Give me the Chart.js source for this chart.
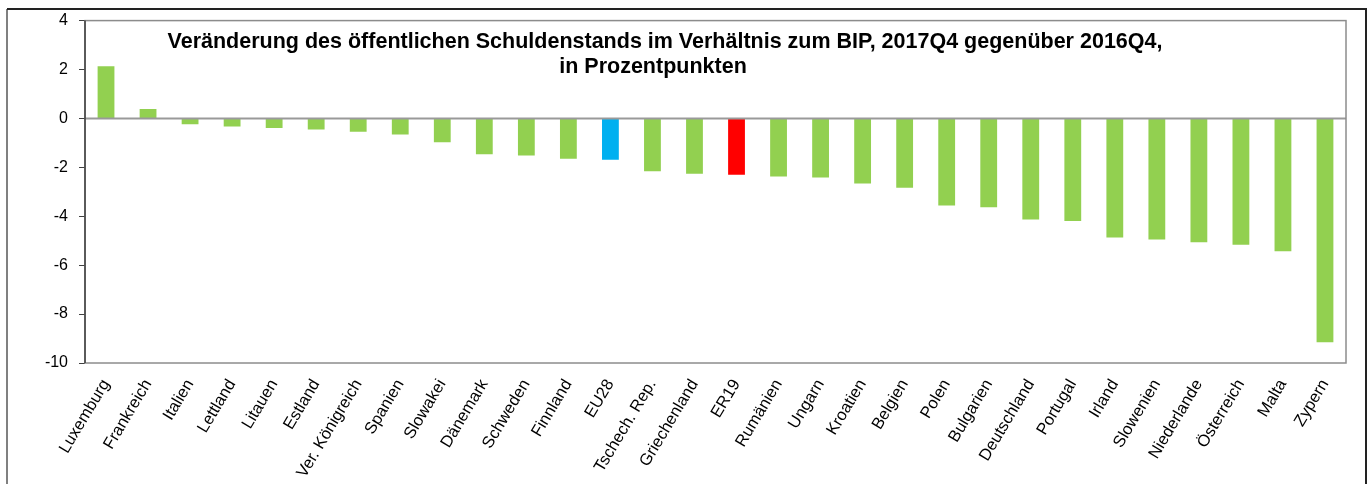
<!DOCTYPE html>
<html>
<head>
<meta charset="utf-8">
<script src="https://cdn.jsdelivr.net/npm/chart.js@4/dist/chart.umd.min.js"></script>
<style>
  html, body { margin: 0; padding: 0; background: #fff; }
  #wrap { width: 1370px; height: 484px; position: relative; }
</style>
</head>
<body>
<div id="wrap"><canvas id="chart" width="1370" height="484"></canvas></div>
<script>
// Debt ratio change 2017Q4 vs 2016Q4, percentage points
const countries = ["Luxemburg", "Frankreich", "Italien", "Lettland", "Litauen", "Estland",
  "Ver. Königreich", "Spanien", "Slowakei", "Dänemark", "Schweden", "Finnland", "EU28",
  "Tschech. Rep.", "Griechenland", "ER19", "Rumänien", "Ungarn", "Kroatien", "Belgien",
  "Polen", "Bulgarien", "Deutschland", "Portugal", "Irland", "Slowenien", "Niederlande",
  "Österreich", "Malta", "Zypern"]
const changes = [2.13, 0.39, -0.24, -0.33, -0.39, -0.45, -0.54, -0.66, -0.97, -1.46, -1.52,
  -1.65, -1.69, -2.16, -2.26, -2.30, -2.37, -2.42, -2.66, -2.83, -3.56, -3.63, -4.13,
  -4.19, -4.87, -4.95, -5.06, -5.17, -5.43, -9.15]
const yTicks = [4, 2, 0, -2, -4, -6, -8, -10]
const titleLines = [
  "Veränderung des öffentlichen Schuldenstands im Verhältnis zum BIP, 2017Q4 gegenüber 2016Q4,",
  "in Prozentpunkten"
]

const GREEN = "#92d050"
const barColors = countries.map(c => c === "EU28" ? "#00b0f0" : c === "ER19" ? "#ff0000" : GREEN)
const FONT = "'Liberation Sans', Arial, sans-serif"

// frame, zero line, plot border and title
const decor = {
  id: "decor",
  beforeDraw(chart) {
    const ctx = chart.ctx
    ctx.save()
    ctx.fillStyle = "#fff"
    ctx.fillRect(0, 0, chart.width, chart.height)
    ctx.restore()
  },
  afterDatasetsDraw(chart) {
    const ctx = chart.ctx
    const a = chart.chartArea
    const y0 = chart.scales.y.getPixelForValue(0)
    ctx.save()
    ctx.strokeStyle = "#999"
    ctx.lineWidth = 2
    ctx.beginPath()
    ctx.moveTo(a.left, y0)
    ctx.lineTo(a.right, y0)
    ctx.stroke()
    ctx.restore()
  },
  afterDraw(chart) {
    const ctx = chart.ctx
    const a = chart.chartArea
    ctx.save()
    // plot border
    ctx.strokeStyle = "#8c8c8c"
    ctx.lineWidth = 1.5
    ctx.strokeRect(a.left, a.top, a.right - a.left, a.bottom - a.top)
    // left axis
    ctx.strokeStyle = "#404040"
    ctx.lineWidth = 1.5
    ctx.beginPath()
    ctx.moveTo(a.left, a.top)
    ctx.lineTo(a.left, a.bottom)
    ctx.stroke()
    // outer frame
    ctx.strokeStyle = "#808080"
    ctx.lineWidth = 2
    ctx.beginPath()
    ctx.moveTo(7, chart.height + 5)
    ctx.lineTo(7, 9)
    ctx.stroke()
    ctx.strokeStyle = "#222"
    ctx.beginPath()
    ctx.moveTo(7, 9)
    ctx.lineTo(1366, 9)
    ctx.lineTo(1366, chart.height + 5)
    ctx.stroke()
    // title
    ctx.fillStyle = "#000"
    ctx.font = "bold 21.5px " + FONT
    ctx.textAlign = "center"
    ctx.textBaseline = "middle"
    ctx.fillText(titleLines[0], 665, 42)
    ctx.fillText(titleLines[1], 653, 67)
    ctx.restore()
  }
}

new Chart(document.getElementById("chart"), {
  type: "bar",
  data: {
    labels: countries,
    datasets: [{
      data: changes,
      backgroundColor: barColors,
      borderWidth: 0,
      barPercentage: 0.4,
      categoryPercentage: 1.0,
    }]
  },
  options: {
    responsive: false,
    animation: false,
    devicePixelRatio: 1,
    layout: { padding: { top: 19, right: 24, left: 0, bottom: 0 } },
    plugins: {
      legend: { display: false },
      tooltip: { enabled: false },
      title: { display: false },
    },
    scales: {
      x: {
        grid: { display: false },
        border: { display: false },
        ticks: {
          autoSkip: false,
          minRotation: 59,
          maxRotation: 59,
          padding: 5,
          color: "#000",
          font: { family: FONT, size: 16.5 },
        },
        afterFit(scale) { scale.height = 121 },
      },
      y: {
        min: -10,
        max: 4,
        afterBuildTicks(scale) { scale.ticks = yTicks.map(v => ({ value: v })) },
        grid: {
          drawOnChartArea: false,
          drawTicks: true,
          tickLength: 6,
          tickColor: "#404040",
        },
        border: { display: false },
        ticks: {
          padding: 11,
          color: "#000",
          font: { family: FONT, size: 16 },
        },
        afterFit(scale) { scale.width = 85 },
      }
    }
  },
  plugins: [decor]
})
</script>
</body>
</html>
